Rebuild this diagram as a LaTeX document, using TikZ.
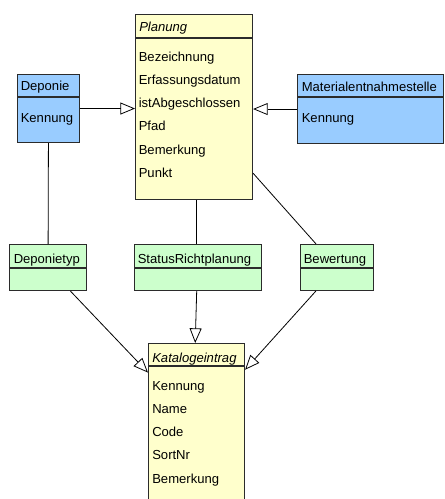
\documentclass[tikz,border=0pt]{standalone}
\usepackage{fontspec}
\setmainfont{Liberation Sans}
\usepackage{tikz}
\usetikzlibrary{arrows.meta}
\definecolor{gelb}{HTML}{FFFFCC}
\definecolor{blau}{HTML}{99CCFF}
\definecolor{gruen}{HTML}{CCFFCC}
\definecolor{rand}{HTML}{2B2B2B}
\tikzstyle{klasse}=[rectangle, draw=rand, line width=0.8pt,% box of one class
anchor=north west, inner sep=0pt]
\tikzstyle{eintrag}=[anchor=base west, inner sep=0pt, font=\fontsize{9.8}{11}\selectfont]
\tikzstyle{trenn}=[draw=rand, line width=0.8pt]
\tikzstyle{assoz}=[line width=0.6pt]
\tikzstyle{erbt}=[-{Triangle[open,length=11pt,width=9pt]}, line width=0.6pt]

\begin{document}
\begin{tikzpicture}[x=0.75pt,y=-0.75pt]
\clip (0,0) rectangle (444,499);
% classes
\node[klasse,fill=gelb,minimum width=87.75pt,minimum height=138.75pt] (planung) at (135,14) {};
\node[klasse,fill=blau,minimum width=46.5pt,minimum height=51pt] (deponie) at (17,74) {};
\node[klasse,fill=blau,minimum width=109.5pt,minimum height=51.75pt] (material) at (297,74) {};
\node[klasse,fill=gruen,minimum width=57.75pt,minimum height=34.5pt] (deponietyp) at (9,244) {};
\node[klasse,fill=gruen,minimum width=95.25pt,minimum height=34.5pt] (status) at (134,244) {};
\node[klasse,fill=gruen,minimum width=54.75pt,minimum height=34.5pt] (bewertung) at (300,244) {};
\node[klasse,fill=gelb,minimum width=72pt,minimum height=120pt] (katalog) at (148,343) {};
% header lines
\draw[trenn] ([yshift=-18pt]planung.north west) -- ([yshift=-18pt]planung.north east);
\draw[trenn] ([yshift=-17.25pt]deponie.north west) -- ([yshift=-17.25pt]deponie.north east);
\draw[trenn] ([yshift=-17.25pt]material.north west) -- ([yshift=-17.25pt]material.north east);
\draw[trenn] ([yshift=-18pt]deponietyp.north west) -- ([yshift=-18pt]deponietyp.north east);
\draw[trenn] ([yshift=-18pt]status.north west) -- ([yshift=-18pt]status.north east);
\draw[trenn] ([yshift=-18pt]bewertung.north west) -- ([yshift=-18pt]bewertung.north east);
\draw[trenn] ([yshift=-17.25pt]katalog.north west) -- ([yshift=-17.25pt]katalog.north east);
% texts
\node[eintrag] (planungK) at (139,32) {\itshape Planung};
\node[eintrag] (pa1) at (138.5,62) {Bezeichnung};
\node[eintrag] (pa2) at (138.5,85) {Erfassungsdatum};
\node[eintrag] (pa3) at (138.5,108) {istAbgeschlossen};
\node[eintrag] (pa4) at (138.5,131) {Pfad};
\node[eintrag] (pa5) at (138.5,154) {Bemerkung};
\node[eintrag] (pa6) at (138.5,177) {Punkt};
\node[eintrag] (deponieK) at (20.5,91) {Deponie};
\node[eintrag] (da1) at (20.5,122.5) {Kennung};
\node[eintrag] (materialK) at (301.5,91.5) {Materialentnahmestelle};
\node[eintrag] (ma1) at (301.5,122.5) {Kennung};
\node[eintrag] (deponietypK) at (13.5,263.5) {Deponietyp};
\node[eintrag] (statusK) at (137.5,263.5) {StatusRichtplanung};
\node[eintrag] (bewertungK) at (303.5,263.5) {Bewertung};
\node[eintrag] (katalogK) at (152,362) {\itshape Katalogeintrag};
\node[eintrag] (ka1) at (152,390) {Kennung};
\node[eintrag] (ka2) at (152,413) {Name};
\node[eintrag] (ka3) at (152,436) {Code};
\node[eintrag] (ka4) at (152,459.5) {SortNr};
\node[eintrag] (ka5) at (152,483) {Bemerkung};
% connectors
\draw[erbt] (deponie.east) -- (deponie.east -| planung.west);
\draw[erbt] (material.west) -- (material.west -| planung.east);
\draw[assoz] (deponie) -- (deponietyp);
\draw[assoz] ([xshift=-1pt]planung.south -| status.north) -- ([xshift=-1pt]status.north);
\draw[assoz] (planung) -- (bewertung);
\draw[erbt] (deponietyp) -- (katalog);
\draw[erbt] ([xshift=-1pt]status.south) -- ([xshift=-1pt]katalog.north);
\draw[erbt] (bewertung) -- (katalog);
\end{tikzpicture}
\end{document}
